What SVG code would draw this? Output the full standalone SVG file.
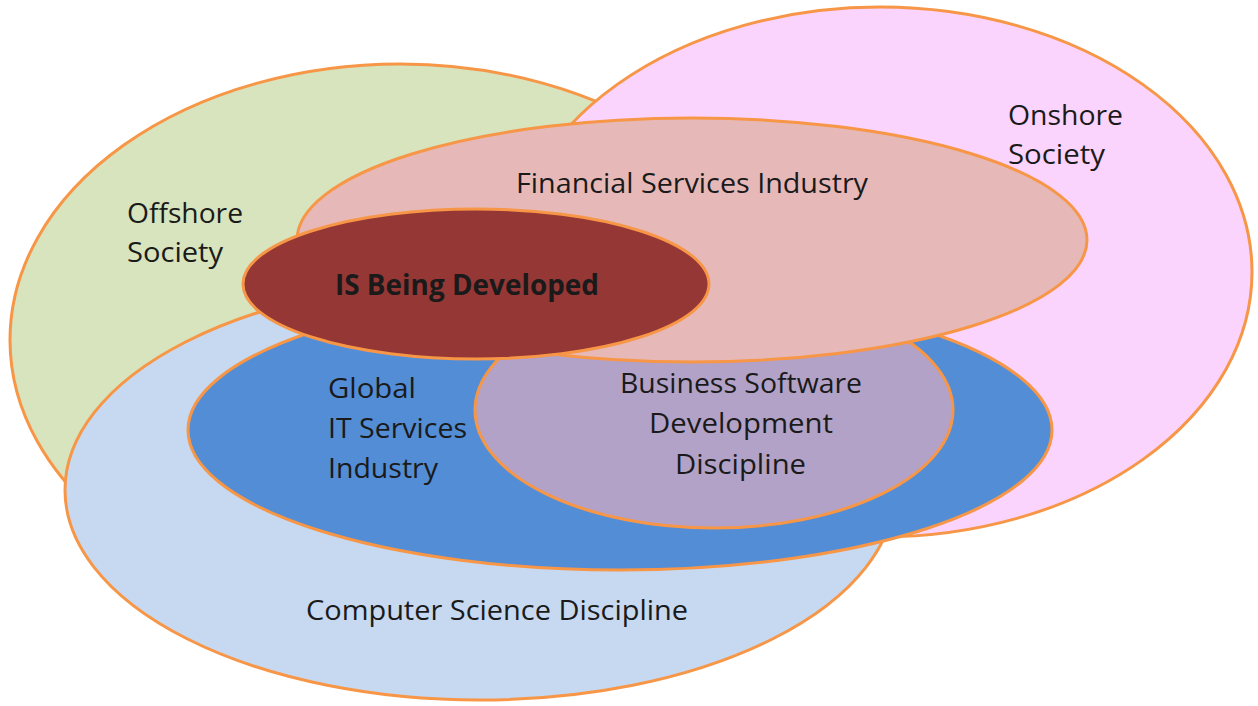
<svg xmlns="http://www.w3.org/2000/svg" width="1258" height="706" viewBox="0 0 1258 706">
<style>
.e{stroke:#f79646;stroke-width:3}
.t{font-family:"Open Sans","Liberation Sans",sans-serif;font-size:28px;fill:#1a1a1a}
.b{font-weight:bold}
</style>
<rect width="1258" height="706" fill="#ffffff"/>
<g id="offshore">
<ellipse class="e" cx="400" cy="340" rx="390" ry="276" fill="#d7e4bd"/>
</g>
<g id="onshore">
<ellipse class="e" cx="880" cy="272" rx="372" ry="265" fill="#fad4fc"/>
</g>
<g id="computer-science">
<ellipse class="e" cx="480" cy="490" rx="415" ry="210" fill="#c6d9f1"/>
</g>
<g id="global-it">
<ellipse class="e" cx="620" cy="430" rx="432" ry="140" fill="#538dd5"/>
</g>
<g id="business-software">
<ellipse class="e" cx="714" cy="410" rx="239" ry="118" fill="#b3a2c7"/>
</g>
<g id="financial">
<ellipse class="e" cx="692" cy="240" rx="395" ry="122" fill="#e6b9b8"/>
</g>
<g id="is-developed">
<ellipse class="e" cx="476" cy="284" rx="233" ry="75" fill="#953735"/>
</g>
<g id="labels">
<text class="t" x="127" y="223" textLength="116" lengthAdjust="spacingAndGlyphs">Offshore</text>
<text class="t" x="127" y="262" textLength="96" lengthAdjust="spacingAndGlyphs">Society</text>
<text class="t" x="1008" y="125" textLength="115" lengthAdjust="spacingAndGlyphs">Onshore</text>
<text class="t" x="1008" y="164" textLength="97" lengthAdjust="spacingAndGlyphs">Society</text>
<text class="t" x="516" y="193" textLength="352" lengthAdjust="spacingAndGlyphs">Financial Services Industry</text>
<text class="t b" x="335" y="295" textLength="264" lengthAdjust="spacingAndGlyphs">IS Being Developed</text>
<text class="t" x="328" y="398" textLength="88" lengthAdjust="spacingAndGlyphs">Global</text>
<text class="t" x="328" y="438" textLength="139" lengthAdjust="spacingAndGlyphs">IT Services</text>
<text class="t" x="328" y="478" textLength="110" lengthAdjust="spacingAndGlyphs">Industry</text>
<text class="t" x="620" y="393" textLength="242" lengthAdjust="spacingAndGlyphs">Business Software</text>
<text class="t" x="649" y="433" textLength="184" lengthAdjust="spacingAndGlyphs">Development</text>
<text class="t" x="675" y="474" textLength="131" lengthAdjust="spacingAndGlyphs">Discipline</text>
<text class="t" x="306" y="620" textLength="382" lengthAdjust="spacingAndGlyphs">Computer Science Discipline</text>
</g>
</svg>
